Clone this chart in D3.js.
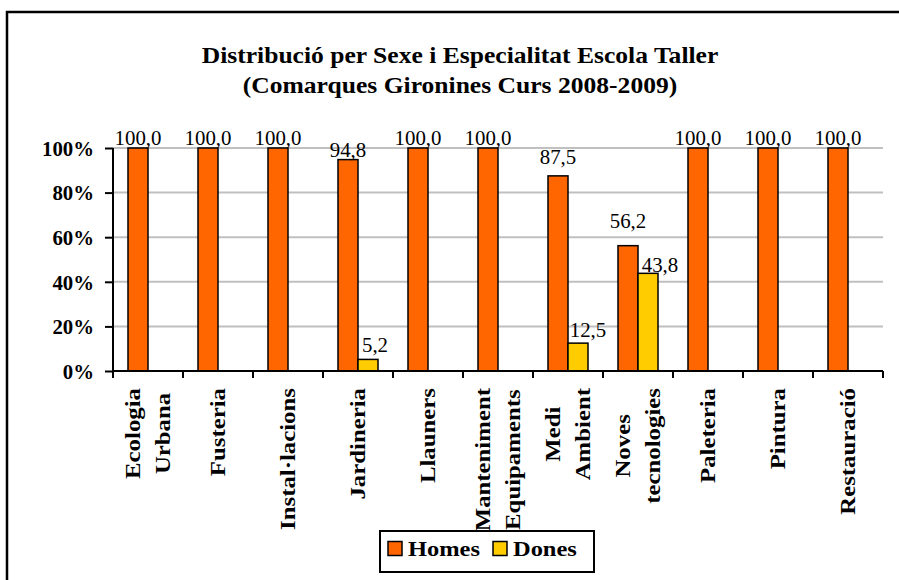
<!DOCTYPE html>
<html>
<head>
<meta charset="utf-8">
<script src="https://cdn.jsdelivr.net/npm/d3@7"></script>
<style>
  html, body { margin: 0; padding: 0; background: #fff; }
  svg { display: block; }
  text { font-family: 'Liberation Serif', 'Times New Roman', serif; fill: #000; }
</style>
</head>
<body>
<svg id="chart" width="899" height="580"></svg>
<script>
// ---- data ----
const titleLines = ["Distribució per Sexe i Especialitat Escola Taller", "(Comarques Gironines Curs 2008-2009)"];
const categories = ["Ecologia Urbana", "Fusteria", "Instal·lacions", "Jardineria", "Llauners",
  "Manteniment Equipaments", "Medi Ambient", "Noves tecnologies", "Paleteria", "Pintura", "Restauració"];
const categoryLines = [["Ecologia", "Urbana"], ["Fusteria"], ["Instal·lacions"], ["Jardineria"], ["Llauners"],
  ["Manteniment", "Equipaments"], ["Medi", "Ambient"], ["Noves", "tecnologies"], ["Paleteria"], ["Pintura"], ["Restauració"]];
const seriesNames = ["Homes", "Dones"];
const homes = [100.0, 100.0, 100.0, 94.8, 100.0, 100.0, 87.5, 56.2, 100.0, 100.0, 100.0];
const dones = [null, null, null, 5.2, null, null, 12.5, 43.8, null, null, null];
const yTicks = [0, 20, 40, 60, 80, 100];
const colors = ["#FF6600", "#FFCC00"];

// manual label nudges (as placed in the original chart) [dx, dy]
const labelNudge = {
  "Homes|Medi Ambient": [0, -9],
  "Homes|Noves tecnologies": [0, -15],
  "Dones|Jardineria": [7, -4],
  "Dones|Medi Ambient": [10, -3],
  "Dones|Noves tecnologies": [12, 2]
};

// ---- layout ----
const svg = d3.select("#chart");
const plot = { left: 113, right: 883, top: 148, bottom: 371 };

// helper: horizontal stretch so Liberation Serif mimics the original wider face
function stretchFor(sample, size, weight, target) {
  const t = svg.append("text").attr("font-size", size).attr("font-weight", weight).text(sample);
  const w = t.node().getComputedTextLength();
  t.remove();
  return target / w;
}
const sxTitle = stretchFor(titleLines[0], 23, "bold", 517);
const sxVal = stretchFor("100,0", 20, "normal", 47);
const sxY = stretchFor("100%", 20, "bold", 52);
const sxX = stretchFor("Instal·lacions", 20, "bold", 142);
const sxLeg = stretchFor("Homes", 21, "bold", 72);

// outer frame
svg.append("rect").attr("x", 7).attr("y", 12).attr("width", 960).attr("height", 640)
  .attr("fill", "none").attr("stroke", "#000").attr("stroke-width", 2.5);

// title
titleLines.forEach((line, i) => {
  svg.append("text")
    .attr("transform", `translate(460,${63 + i * 30}) scale(${sxTitle},1)`)
    .attr("text-anchor", "middle").attr("font-size", 23).attr("font-weight", "bold")
    .text(line);
});

// scales
const x = d3.scaleBand().domain(categories).range([plot.left, plot.right]).padding(0);
const x1 = d3.scaleBand().domain(seriesNames).range([15, 55]).padding(0);
const y = d3.scaleLinear().domain([0, 100]).range([plot.bottom, plot.top]);

// gridlines
svg.append("g").selectAll("line").data(yTicks.filter(t => t > 0)).join("line")
  .attr("x1", plot.left).attr("x2", plot.right)
  .attr("y1", d => y(d)).attr("y2", d => y(d))
  .attr("stroke", "#c0c0c0").attr("stroke-width", 2);

// bars
const series = [homes, dones];
const barData = [];
series.forEach((vals, si) => vals.forEach((v, ci) => {
  if (v !== null) barData.push({ s: seriesNames[si], si, c: categories[ci], v });
}));

svg.append("g").selectAll("rect").data(barData).join("rect")
  .attr("x", d => x(d.c) + x1(d.s))
  .attr("width", x1.bandwidth())
  .attr("y", d => y(d.v))
  .attr("height", d => y(0) - y(d.v))
  .attr("fill", d => colors[d.si])
  .attr("stroke", "#000").attr("stroke-width", 1.5);

// value labels
const fmt = v => d3.format(".1f")(v).replace(".", ",");
svg.append("g").selectAll("text").data(barData).join("text")
  .attr("transform", d => {
    const n = labelNudge[d.s + "|" + d.c] || [0, 0];
    const cx = x(d.c) + x1(d.s) + x1.bandwidth() / 2 + n[0];
    const cy = y(d.v) - 3 + n[1];
    return `translate(${cx},${cy}) scale(${sxVal},1)`;
  })
  .attr("text-anchor", "middle").attr("font-size", 20)
  .text(d => fmt(d.v));

// y axis
const yAxis = svg.append("g").attr("transform", `translate(${plot.left},0)`)
  .call(d3.axisLeft(y).tickValues(yTicks).tickFormat(d => d + "%").tickSize(8).tickPadding(11));
yAxis.select(".domain").attr("stroke", "#000").attr("stroke-width", 2).attr("d", `M0,${plot.top}V${plot.bottom}`);
yAxis.selectAll(".tick line").attr("stroke", "#000").attr("stroke-width", 2);
yAxis.selectAll(".tick text").attr("font-size", 20).attr("font-weight", "bold")
  .attr("font-family", "'Liberation Serif', serif").attr("fill", "#000")
  .attr("transform", `scale(${sxY},1)`)
  .attr("x", -19 / sxY).attr("dy", "0.36em");

// x axis line + ticks at band boundaries
const xAxisG = svg.append("g");
xAxisG.append("line").attr("x1", plot.left - 1).attr("x2", plot.right)
  .attr("y1", plot.bottom).attr("y2", plot.bottom).attr("stroke", "#000").attr("stroke-width", 2);
const boundaries = categories.map(c => x(c)).concat([plot.right]);
xAxisG.selectAll("line.tk").data(boundaries).join("line").attr("class", "tk")
  .attr("x1", d => d).attr("x2", d => d)
  .attr("y1", plot.bottom).attr("y2", plot.bottom + 7)
  .attr("stroke", "#000").attr("stroke-width", 2);

// x labels (rotated, multi-line centred)
categories.forEach((c, ci) => {
  const lines = categoryLines[ci];
  const cx = x(c) + x.bandwidth() / 2;
  const lens = lines.map(l => {
    const t = svg.append("text").attr("font-size", 20).attr("font-weight", "bold").text(l);
    const w = t.node().getComputedTextLength() * sxX; t.remove(); return w;
  });
  const maxLen = d3.max(lens);
  const cy = 388 + maxLen / 2;
  lines.forEach((l, li) => {
    const lx = cx + (li - (lines.length - 1) / 2) * 30;
    svg.append("text")
      .attr("transform", `translate(${lx},${cy}) rotate(-90) scale(${sxX},1)`)
      .attr("text-anchor", "middle").attr("dy", "0.33em")
      .attr("font-size", 20).attr("font-weight", "bold")
      .text(l);
  });
});

// legend
const leg = svg.append("g");
leg.append("rect").attr("x", 380).attr("y", 531).attr("width", 214).attr("height", 41)
  .attr("fill", "#fff").attr("stroke", "#000").attr("stroke-width", 2);
const legX = [388, 493];
seriesNames.forEach((s, i) => {
  leg.append("rect").attr("x", legX[i]).attr("y", 541.5).attr("width", 14).attr("height", 14)
    .attr("fill", colors[i]).attr("stroke", "#000").attr("stroke-width", 1.5);
  leg.append("text")
    .attr("transform", `translate(${legX[i] + 20},556) scale(${sxLeg},1)`)
    .attr("font-size", 21).attr("font-weight", "bold").text(s);
});
</script>
</body>
</html>
